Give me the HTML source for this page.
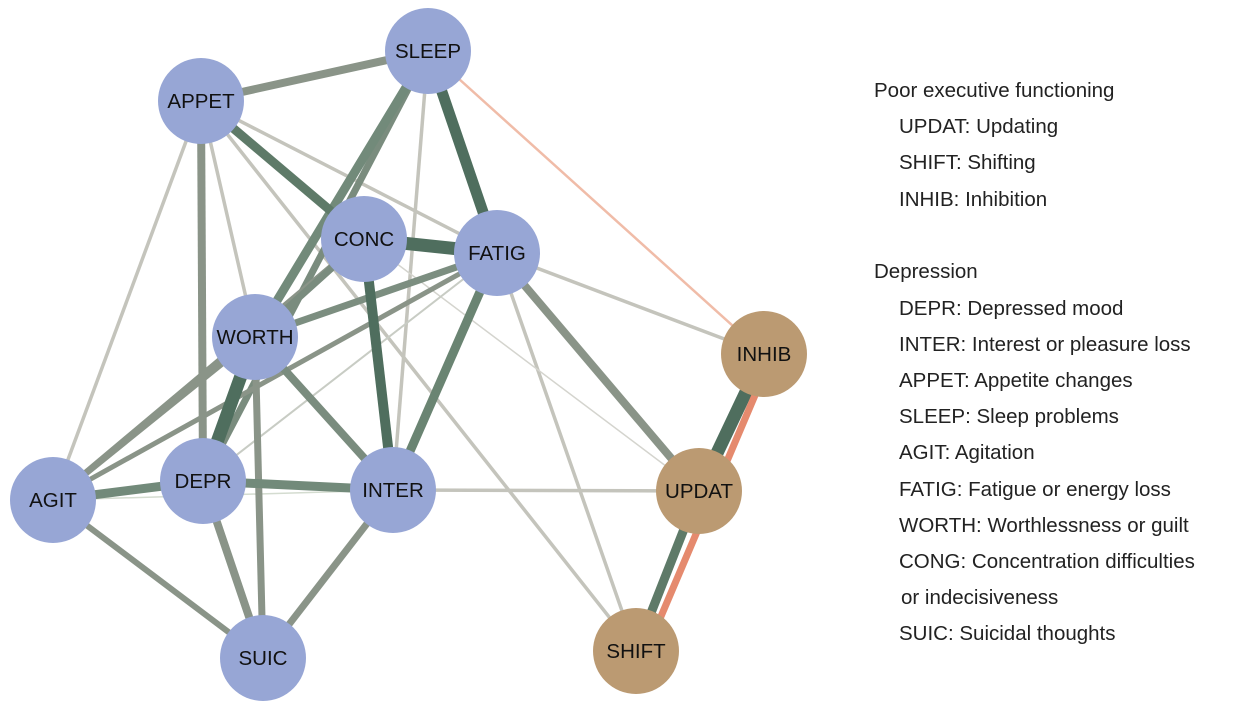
<!DOCTYPE html>
<html><head><meta charset="utf-8"><style>
body{margin:0;background:#fff;width:1240px;height:706px;overflow:hidden}
svg{display:block}
text{font-family:"Liberation Sans",sans-serif}
</style></head><body>
<svg width="1240" height="706" xmlns="http://www.w3.org/2000/svg">
<g stroke-linecap="butt">
<g stroke="#c4c4bc">
<line x1="201" y1="101" x2="53" y2="500" stroke-width="3.5"/>
<line x1="201" y1="101" x2="255" y2="337" stroke-width="3.5"/>
<line x1="201" y1="101" x2="497" y2="253" stroke-width="3.5"/>
<line x1="201" y1="101" x2="636" y2="651" stroke-width="3.5"/>
<line x1="428" y1="51" x2="393" y2="490" stroke-width="3.5"/>
<line x1="497" y1="253" x2="764" y2="354" stroke-width="3.5"/>
<line x1="497" y1="253" x2="636" y2="651" stroke-width="3.5"/>
<line x1="393" y1="490" x2="699" y2="491" stroke-width="3.5"/>
<line x1="364" y1="239" x2="699" y2="491" stroke-width="1.5" stroke="#d4d4ce"/>
<line x1="53" y1="500" x2="393" y2="490" stroke-width="1.5" stroke="#d4dcd0"/>
<line x1="263" y1="658" x2="393" y2="490" stroke-width="1.5" stroke="#d4d4ce"/>
<line x1="203" y1="481" x2="497" y2="253" stroke-width="2" stroke="#c8ccc4"/>
</g>
<line x1="428" y1="51" x2="764" y2="354" stroke="#f0bca8" stroke-width="2.5"/>
<g stroke="#8a9488">
<line x1="428" y1="51" x2="201" y2="101" stroke-width="8"/>
<line x1="201" y1="101" x2="203" y2="481" stroke-width="8"/>
<line x1="428" y1="51" x2="203" y2="481" stroke-width="7" stroke="#7a8c7e"/>
<line x1="428" y1="51" x2="255" y2="337" stroke-width="9" stroke="#728a7a"/>
<line x1="364" y1="239" x2="53" y2="500" stroke-width="6"/>
<line x1="497" y1="253" x2="255" y2="337" stroke-width="7" stroke="#7c8e80"/>
<line x1="497" y1="253" x2="53" y2="500" stroke-width="5"/>
<line x1="497" y1="253" x2="393" y2="490" stroke-width="9" stroke="#6a8472"/>
<line x1="497" y1="253" x2="699" y2="491" stroke-width="8"/>
<line x1="255" y1="337" x2="393" y2="490" stroke-width="8" stroke="#7a8c7e"/>
<line x1="255" y1="337" x2="263" y2="658" stroke-width="7"/>
<line x1="255" y1="337" x2="53" y2="500" stroke-width="6"/>
<line x1="364" y1="239" x2="255" y2="337" stroke-width="7" stroke="#7a8c7e"/>
<line x1="203" y1="481" x2="53" y2="500" stroke-width="9" stroke="#728a7a"/>
<line x1="203" y1="481" x2="393" y2="490" stroke-width="9" stroke="#728a7a"/>
<line x1="203" y1="481" x2="263" y2="658" stroke-width="8"/>
<line x1="53" y1="500" x2="263" y2="658" stroke-width="6"/>
<line x1="393" y1="490" x2="263" y2="658" stroke-width="7"/>
</g>
<g stroke="#4f6e5e">
<line x1="201" y1="101" x2="364" y2="239" stroke-width="9" stroke="#5e7a68"/>
<line x1="428" y1="51" x2="497" y2="253" stroke-width="11"/>
<line x1="364" y1="239" x2="497" y2="253" stroke-width="13"/>
<line x1="364" y1="239" x2="393" y2="490" stroke-width="10"/>
<line x1="255" y1="337" x2="203" y2="481" stroke-width="13"/>
<line x1="764" y1="354" x2="699" y2="491" stroke-width="13"/>
<line x1="699" y1="491" x2="636" y2="651" stroke-width="9" stroke="#5e7a68"/>
</g>
<line x1="770" y1="360" x2="645" y2="654" stroke="#e58a6e" stroke-width="7"/>
</g>
<g fill="#97a6d5">
<circle cx="428" cy="51" r="43"/><circle cx="201" cy="101" r="43"/>
<circle cx="364" cy="239" r="43"/><circle cx="497" cy="253" r="43"/>
<circle cx="255" cy="337" r="43"/><circle cx="203" cy="481" r="43"/>
<circle cx="53" cy="500" r="43"/><circle cx="393" cy="490" r="43"/>
<circle cx="263" cy="658" r="43"/>
</g>
<g fill="#bb9a72">
<circle cx="764" cy="354" r="43"/><circle cx="699" cy="491" r="43"/><circle cx="636" cy="651" r="43"/>
</g>
<g font-size="20.5" fill="#111" text-anchor="middle">
<text x="428" y="58">SLEEP</text><text x="201" y="108">APPET</text>
<text x="364" y="246">CONC</text><text x="497" y="260">FATIG</text>
<text x="255" y="344">WORTH</text><text x="203" y="488">DEPR</text>
<text x="53" y="507">AGIT</text><text x="393" y="497">INTER</text>
<text x="263" y="665">SUIC</text><text x="764" y="361">INHIB</text>
<text x="699" y="498">UPDAT</text><text x="636" y="658">SHIFT</text>
</g>
<g font-size="20.5" fill="#222">
<text x="874" y="97">Poor executive functioning</text>
<text x="899" y="133">UPDAT: Updating</text>
<text x="899" y="169">SHIFT: Shifting</text>
<text x="899" y="206">INHIB: Inhibition</text>
<text x="874" y="278">Depression</text>
<text x="899" y="315">DEPR: Depressed mood</text>
<text x="899" y="351">INTER: Interest or pleasure loss</text>
<text x="899" y="387">APPET: Appetite changes</text>
<text x="899" y="423">SLEEP: Sleep problems</text>
<text x="899" y="459">AGIT: Agitation</text>
<text x="899" y="496">FATIG: Fatigue or energy loss</text>
<text x="899" y="532">WORTH: Worthlessness or guilt</text>
<text x="899" y="568">CONG: Concentration difficulties</text>
<text x="901" y="604">or indecisiveness</text>
<text x="899" y="640">SUIC: Suicidal thoughts</text>
</g>
</svg>
</body></html>
